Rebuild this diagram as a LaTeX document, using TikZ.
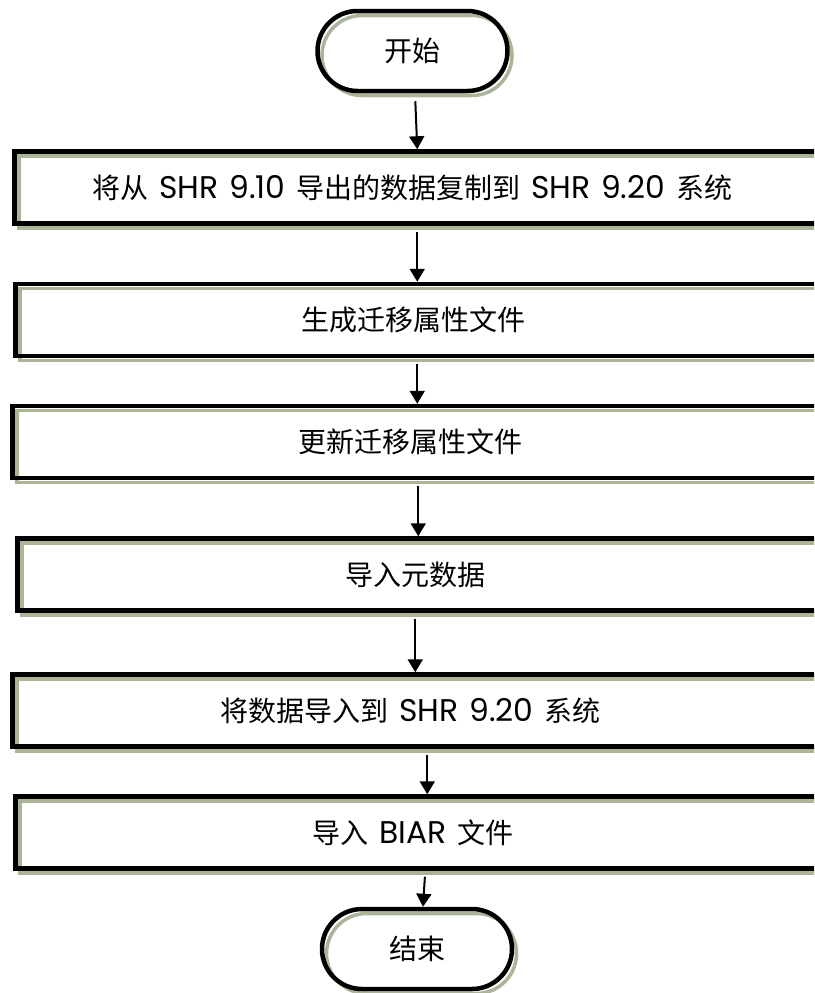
\documentclass[tikz,border=0pt]{standalone}
\usepackage{fontspec}
\setmainfont{Poppins}[Scale=1.12,WordSpace=1.3]
\newfontfamily\cjk{Noto Sans CJK SC}
\usetikzlibrary{arrows.meta}
\definecolor{shcol}{RGB}{170,180,150}
\begin{document}
\begin{tikzpicture}[x=1pt,y=-1pt,
    shdw/.style={preaction={draw=shcol,line width=3.5pt,transform canvas={shift={(4.5pt,-4.5pt)}}}},
    term/.style={rectangle,draw,line width=4.5pt,shdw,rounded corners=40pt,minimum width=190pt,minimum height=80pt,font=\fontsize{28}{34}\selectfont},
    stepbox/.style={rectangle,draw,line width=4.5pt,shdw,anchor=west,minimum width=820pt,minimum height=72pt,font=\fontsize{28}{34}\selectfont,execute at begin node={\hspace*{-24pt}}},
    arr/.style={line width=2pt,-{Triangle[length=13pt,width=15pt]}}]
    \useasboundingbox (0,0) rectangle (814,993);
    \clip (0,0) rectangle (814,993);
    \node[term] (s) at (412.5,51) {\cjk 开始};
    \node[stepbox] (b1) at (12,187.5) {{\cjk 将从} SHR 9.10 {\cjk 导出的数据复制到} SHR 9.20 {\cjk 系统}};
    \node[stepbox] (b2) at (13,320) {\cjk 生成迁移属性文件};
    \node[stepbox] (b3) at (10,442) {\cjk 更新迁移属性文件};
    \node[stepbox] (b4) at (15,574.5) {\cjk 导入元数据};
    \node[stepbox] (b5) at (10,710.5) {{\cjk 将数据导入到} SHR 9.20 {\cjk 系统}};
    \node[stepbox] (b6) at (13,832.5) {{\cjk 导入} BIAR {\cjk 文件}};
    \node[term] (e) at (417,949) {\cjk 结束};
    \draw[arr,shorten <=8pt] ([xshift=2.5pt]s.south) -- ([xshift=-7pt]b1.north);
    \draw[arr,shorten <=6pt] ([xshift=-7pt]b1.south) -- ([xshift=-8pt]b2.north);
    \draw[arr,shorten <=6pt] ([xshift=-8pt]b2.south) -- ([xshift=-5pt]b3.north);
    \draw[arr,shorten <=6pt] ([xshift=-4pt]b3.south) -- ([xshift=-9pt]b4.north);
    \draw[arr,shorten <=6pt] ([xshift=-12pt]b4.south) -- ([xshift=-7pt]b5.north);
    \draw[arr,shorten <=6pt] ([xshift=5pt]b5.south) -- ([xshift=2pt]b6.north);
    \draw[arr,shorten <=6pt] (b6.south) -- ([xshift=6pt]e.north);
\end{tikzpicture}
\end{document}
